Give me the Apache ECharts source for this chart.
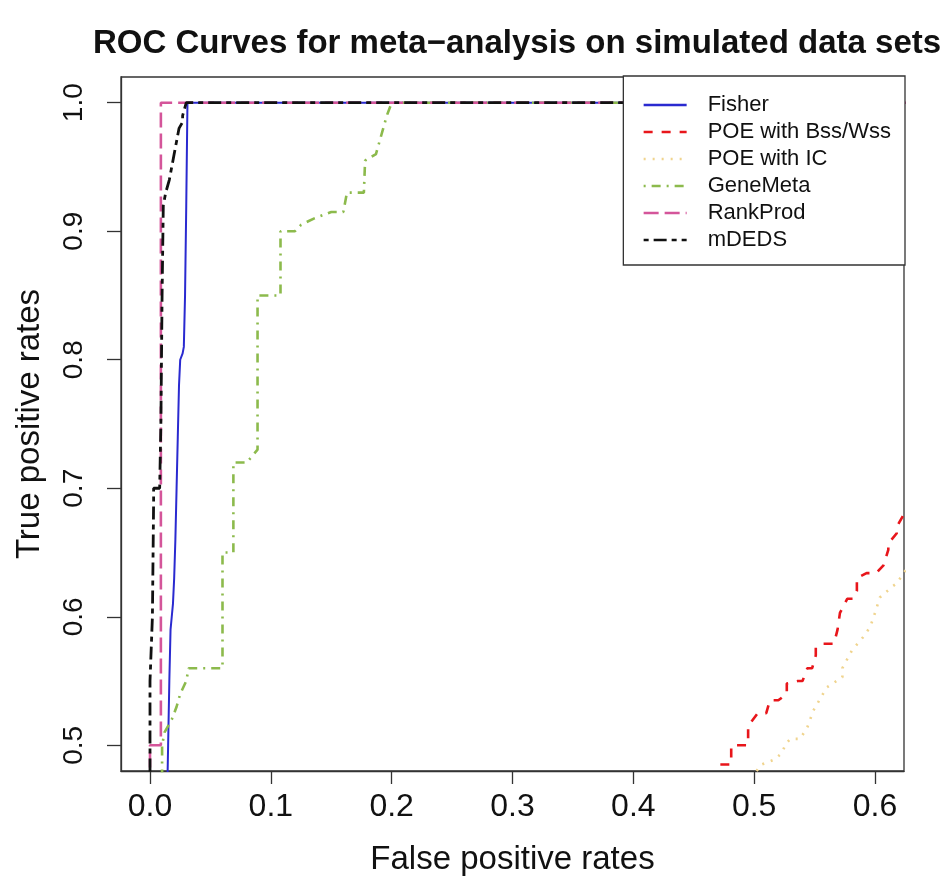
<!DOCTYPE html>
<html>
<head>
<meta charset="utf-8">
<script src="https://cdn.jsdelivr.net/npm/echarts@6/dist/echarts.min.js"></script>
<style>html,body{margin:0;padding:0;background:#fff}#c{width:952px;height:881px}</style>
</head>
<body>
<div id="c"></div>
<script>
// ---- data ----
var titleText = "ROC Curves for meta\u2212analysis on simulated data sets";
var xTicks = [0.0, 0.1, 0.2, 0.3, 0.4, 0.5, 0.6];
var yTicks = [0.5, 0.6, 0.7, 0.8, 0.9, 1.0];
var seriesNames = ["Fisher", "POE with Bss/Wss", "POE with IC", "GeneMeta", "RankProd", "mDEDS"];

// [false positive rate, true positive rate]
var fisher = [[0.014,0.45],[0.015,0.50],[0.016,0.55],[0.017,0.59],[0.018,0.60],[0.019,0.61],[0.020,0.63],[0.021,0.66],[0.022,0.70],[0.023,0.74],[0.024,0.78],[0.025,0.80],[0.027,0.805],[0.028,0.81],[0.029,0.85],[0.030,0.92],[0.031,1.0],[1.0,1.0]];
var poeBss = [[0.472,0.485],[0.481,0.485],[0.481,0.50],[0.495,0.50],[0.495,0.515],[0.503,0.525],[0.510,0.525],[0.513,0.535],[0.520,0.535],[0.527,0.54],[0.527,0.548],[0.536,0.55],[0.540,0.55],[0.544,0.56],[0.548,0.56],[0.551,0.57],[0.551,0.576],[0.557,0.579],[0.566,0.579],[0.569,0.59],[0.571,0.603],[0.577,0.614],[0.582,0.614],[0.585,0.62],[0.585,0.63],[0.593,0.634],[0.601,0.634],[0.607,0.64],[0.611,0.652],[0.611,0.657],[0.618,0.665],[0.618,0.67],[0.624,0.68],[0.630,0.69]];
var poeIC = [[0.502,0.48],[0.506,0.485],[0.517,0.489],[0.523,0.494],[0.526,0.501],[0.530,0.505],[0.538,0.505],[0.544,0.514],[0.549,0.527],[0.560,0.545],[0.573,0.553],[0.573,0.56],[0.581,0.574],[0.590,0.584],[0.596,0.592],[0.600,0.603],[0.604,0.615],[0.615,0.624],[0.618,0.626],[0.628,0.64]];
var geneMeta = [[0.010,0.45],[0.010,0.50],[0.012,0.51],[0.018,0.52],[0.022,0.53],[0.025,0.54],[0.030,0.55],[0.032,0.56],[0.060,0.56],[0.060,0.65],[0.069,0.65],[0.069,0.72],[0.080,0.72],[0.089,0.73],[0.089,0.85],[0.098,0.85],[0.108,0.85],[0.108,0.90],[0.120,0.90],[0.125,0.905],[0.136,0.91],[0.150,0.915],[0.160,0.915],[0.163,0.93],[0.177,0.93],[0.178,0.955],[0.187,0.96],[0.196,0.99],[0.200,1.0],[1.0,1.0]];
var rankProd = [[0.0,0.45],[0.0,0.50],[0.009,0.50],[0.009,1.0],[1.0,1.0]];
var mDEDS = [[0.0,0.45],[0.0,0.55],[0.002,0.60],[0.003,0.69],[0.003,0.70],[0.008,0.70],[0.009,0.75],[0.010,0.85],[0.011,0.92],[0.013,0.93],[0.016,0.94],[0.018,0.95],[0.020,0.96],[0.022,0.97],[0.024,0.98],[0.027,0.985],[0.027,0.99],[0.030,1.0],[1.0,1.0]];

var seriesData = [fisher, poeBss, poeIC, geneMeta, rankProd, mDEDS];
var colors = ['#2a2ad0', '#e8161b', '#f0d48e', '#8cba4c', '#d4559a', '#111111'];
var dashes = ['solid', [9, 9], [2, 7], [2, 6, 9, 6], [15, 6], [5, 5, 13, 5]];
var widths = [2, 2.6, 2.6, 2.6, 2.6, 2.8];

var font = 'Liberation Sans, Arial, Helvetica, sans-serif';
var chart = echarts.init(document.getElementById('c'), null, {renderer: 'canvas'});

var series = seriesNames.map(function (n, i) {
  return {
    name: n, type: 'line', data: seriesData[i], symbol: 'none', showSymbol: false,
    clip: true, animation: false,
    lineStyle: {color: colors[i], width: widths[i], type: dashes[i], cap: 'butt'},
    itemStyle: {color: colors[i]},
    z: 2
  };
});

chart.setOption({
  backgroundColor: '#ffffff',
  animation: false,
  title: {
    text: titleText, left: 512, top: 22, textAlign: 'center',
    textStyle: {fontFamily: font, fontSize: 33, fontWeight: 'bold', color: '#111'}
  },
  grid: {left: 121, top: 77, right: 48, bottom: 110, show: true, borderColor: '#333', borderWidth: 1.3, backgroundColor: 'transparent'},
  legend: {
    orient: 'vertical', right: 47, top: 76, data: seriesNames, z: 20,
    backgroundColor: '#fff', borderColor: '#333', borderWidth: 1.3,
    padding: [18, 14, 14, 19], itemWidth: 43, itemHeight: 14, itemGap: 5,
    itemStyle: {opacity: 0, borderWidth: 0},
    lineStyle: {width: 2.6},
    textStyle: {fontFamily: font, fontSize: 22, color: '#111', lineHeight: 22, padding: [0, 0, 0, 16]},
    selectedMode: false
  },
  xAxis: {
    type: 'value', min: -0.024, max: 0.624,
    name: 'False positive rates', nameLocation: 'middle', nameGap: 72,
    nameTextStyle: {fontFamily: font, fontSize: 33, color: '#111'},
    axisLine: {show: true, onZero: false, lineStyle: {color: '#333', width: 1.3}},
    axisTick: {show: true, length: 13, customValues: xTicks, lineStyle: {color: '#333', width: 1.3}},
    axisLabel: {customValues: xTicks, margin: 20, fontFamily: font, fontSize: 32, color: '#111',
      formatter: function (v) { return v.toFixed(1); }},
    splitLine: {show: false}
  },
  yAxis: {
    type: 'value', min: 0.48, max: 1.02,
    name: 'True positive rates', nameLocation: 'middle', nameGap: 75, nameRotate: 90,
    nameTextStyle: {fontFamily: font, fontSize: 33, color: '#111'},
    axisLine: {show: true, onZero: false, lineStyle: {color: '#333', width: 1.3}},
    axisTick: {show: true, length: 14, customValues: yTicks, lineStyle: {color: '#333', width: 1.3}},
    axisLabel: {customValues: yTicks, rotate: 90, margin: 33, fontFamily: font, fontSize: 28, color: '#111',
      formatter: function (v) { return v.toFixed(1); }},
    splitLine: {show: false}
  },
  series: series
});
</script>
</body>
</html>
